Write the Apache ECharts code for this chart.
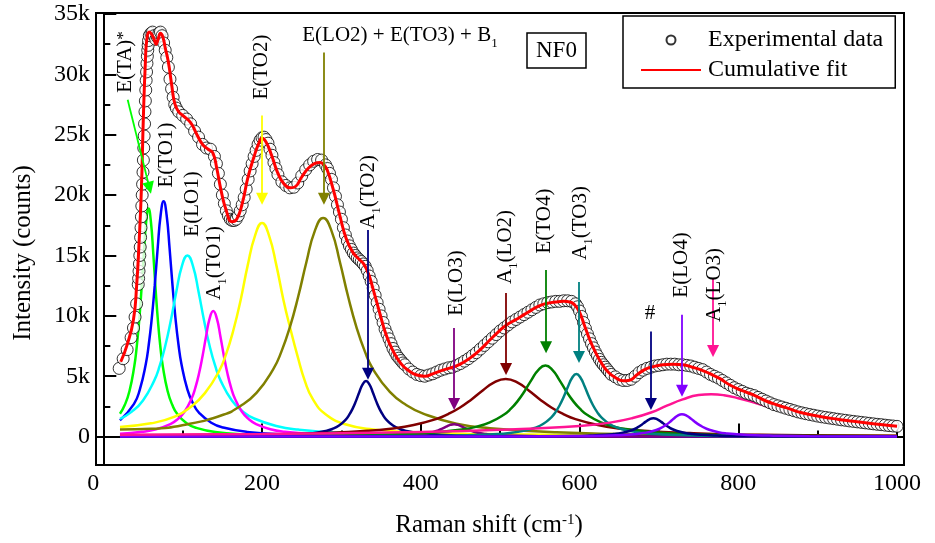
<!DOCTYPE html>
<html>
<head>
<meta charset="utf-8">
<script src="https://cdn.jsdelivr.net/npm/echarts@6/dist/echarts.min.js"></script>
<style>
  html, body { margin: 0; padding: 0; background: #fff; }
  #container { width: 935px; height: 543px; }
</style>
</head>
<body>
<div id="container"></div>
<script>
// Raman spectrum of NF0 with fitted peaks; intensities in k counts

var expShift = [20, 25, 30, 35, 38, 40, 42, 44, 44.5, 45, 45.5, 46, 46.5, 47, 47.5, 48, 48.5, 49, 49.5, 50, 50.5, 51, 51.5, 52, 52.5, 53, 53.5, 54, 54.5, 55, 55.5, 56, 56.5, 57, 58,
    60, 62, 64, 66, 68, 70, 72, 74, 76, 78, 80, 82, 84, 86, 88, 90, 92, 95,
    100, 105, 110, 115, 120, 125, 130, 135, 140, 142.5, 145, 147.5, 150, 152.5, 155, 157.5, 160, 162.5, 165, 167.5, 170, 172.5, 175, 177.5, 180, 182.5, 185, 187.5, 190, 192.5, 195, 197.5,
    200, 202.5, 205, 207.5, 210, 212.5, 215, 217.5, 220, 225, 230, 235, 240, 245, 250, 255, 260, 265, 270, 275, 280, 282.5, 285, 287.5, 290, 292.5, 295, 297.5,
    300, 302.5, 305, 307.5, 310, 312.5, 315, 317.5, 320, 322.5, 325, 327.5, 330, 332.5, 335, 337.5, 340, 342.5, 345, 347.5, 350, 352.5, 355, 357.5, 360, 362.5, 365, 367.5, 370, 372.5, 375, 377.5, 380, 385, 390, 395,
    400, 405, 410, 415, 420, 425, 430, 435, 440, 445, 450, 455, 460, 465, 470, 475, 480, 485, 490, 495,
    500, 505, 510, 515, 520, 525, 530, 535, 540, 545, 550, 555, 560, 565, 570, 575, 580, 585, 590, 595, 597.5,
    600, 602.5, 605, 607.5, 610, 612.5, 615, 617.5, 620, 622.5, 625, 627.5, 630, 632.5, 635, 637.5, 640, 645, 650, 655, 660, 665, 670, 675, 680, 685, 690, 695,
    700, 705, 710, 715, 720, 725, 730, 735, 740, 745, 750, 755, 760, 765, 770, 775, 780, 785, 790, 795,
    800, 805, 810, 815, 820, 825, 830, 835, 840, 845, 850, 855, 860, 865, 870, 875, 880, 885, 890, 895,
    900, 905, 910, 915, 920, 925, 930, 935, 940, 945, 950, 955, 960, 965, 970, 975, 980, 985, 990, 995, 1000];

var expCounts = [5.65, 6.45, 7.2, 8.2, 9.0, 9.9, 11.0, 12.6, 13.1, 13.7, 14.3, 15.0, 15.7, 16.5, 17.3, 18.2, 19.1, 20.0, 20.9, 21.9, 22.9, 23.9, 24.9, 25.9, 26.9, 27.8, 28.7, 29.5, 30.2, 30.9, 31.5, 32.0, 32.4, 32.8, 33.2,
    33.4, 33.5, 33.2, 32.9, 33.1, 33.4, 33.5, 33.2, 32.6, 32.0, 31.4, 30.6, 29.6, 28.8, 28.1, 27.5, 27.2, 26.9,
    26.6, 26.3, 25.9, 25.3, 24.8, 24.2, 23.9, 23.8, 23.2, 22.6, 21.8, 20.9, 20.0, 19.3, 18.7, 18.3, 18.0, 17.9, 17.9, 18.0, 18.3, 18.7, 19.2, 19.8, 20.5, 21.3, 22.0, 22.6, 23.2, 23.7, 24.2, 24.55,
    24.75, 24.8, 24.6, 24.3, 23.8, 23.3, 22.7, 22.2, 21.7, 21.1, 20.8, 20.6, 20.65, 21.0, 21.6, 22.1, 22.5, 22.8, 22.95, 22.9, 22.5, 22.2, 21.8, 21.3, 20.6, 19.9, 19.2, 18.6,
    18.0, 17.3, 16.7, 16.2, 15.8, 15.5, 15.2, 15.0, 14.8, 14.65, 14.5, 14.3, 14.1, 13.75, 13.3, 12.85, 12.3, 11.7, 11.1, 10.55, 10.0, 9.45, 8.9, 8.5, 8.1, 7.7, 7.3, 7.0, 6.7, 6.5, 6.3, 6.1, 5.95, 5.6, 5.35, 5.15,
    5.05, 5.0, 5.1, 5.2, 5.35, 5.5, 5.6, 5.7, 5.75, 5.9, 6.05, 6.25, 6.45, 6.7, 6.95, 7.25, 7.55, 7.85, 8.15, 8.45,
    8.75, 9.0, 9.25, 9.5, 9.7, 9.9, 10.1, 10.3, 10.5, 10.7, 10.9, 11.0, 11.1, 11.15, 11.2, 11.2, 11.25, 11.25, 11.2, 11.0, 10.75,
    10.4, 9.95, 9.45, 8.95, 8.5, 8.1, 7.7, 7.35, 7.0, 6.7, 6.4, 6.15, 5.95, 5.75, 5.55, 5.35, 5.15, 4.95, 4.75, 4.65, 4.65, 4.75, 5.0, 5.3, 5.5, 5.65, 5.75, 5.85,
    5.9, 5.95, 6.0, 6.0, 6.0, 5.95, 5.95, 5.9, 5.85, 5.75, 5.65, 5.55, 5.35, 5.15, 5.0, 4.85, 4.65, 4.45, 4.25, 4.05,
    3.9, 3.75, 3.6, 3.5, 3.4, 3.25, 3.1, 2.95, 2.8, 2.65, 2.55, 2.45, 2.35, 2.25, 2.15, 2.05, 1.97, 1.9, 1.83, 1.77,
    1.7, 1.64, 1.59, 1.54, 1.49, 1.44, 1.39, 1.35, 1.3, 1.26, 1.22, 1.18, 1.14, 1.1, 1.06, 1.02, 0.99, 0.95, 0.91, 0.88, 0.85];

var fitShift = [22, 30, 38, 42, 45, 48, 50.5, 53, 55, 58, 61, 64, 66.5, 69, 72, 75, 78, 82, 86, 90, 95, 100, 110, 118, 125, 132, 138, 143, 148, 155, 162, 168, 175, 182,
    190, 196, 200, 205, 212, 220, 228, 236, 242, 250, 258, 266, 273, 278, 282, 290, 298, 306, 314, 322, 328, 334, 340, 348, 356, 365, 375, 385, 395,
    405, 415, 425, 435, 445, 455, 465, 475, 487, 498, 508, 520, 530, 540, 550, 560, 570, 580, 588, 594, 600, 606, 613, 620, 628, 636, 645, 655, 663,
    672, 682, 693, 705, 718, 730, 742, 756, 768, 777, 790, 805, 819, 835, 850, 861, 880, 903, 925, 945, 970, 1000];

var fitCounts = [6.2, 7.6, 9.7, 12.5, 16.0, 20.5, 26.5, 31.0, 33.0, 33.5, 33.3, 32.9, 32.5, 32.9, 33.4, 33.1, 32.2, 31.0, 29.2, 27.6, 26.9, 26.6, 26.0, 25.0, 24.2, 23.8, 23.5, 22.2, 20.5, 18.7, 17.8, 18.0, 19.3, 21.4,
    23.2, 24.3, 24.7, 24.4, 23.3, 21.8, 20.9, 20.6, 20.7, 21.5, 22.2, 22.6, 22.7, 22.5, 22.1, 20.4, 18.3, 16.4, 15.3, 14.7, 14.3, 13.5, 12.2, 10.3, 8.5, 7.1, 6.05, 5.45, 5.1,
    5.0, 5.2, 5.45, 5.65, 5.85, 6.2, 6.65, 7.2, 8.0, 8.7, 9.25, 9.7, 10.1, 10.5, 10.85, 11.05, 11.15, 11.2, 11.15, 10.9, 10.3, 9.25, 8.0, 7.0, 6.05, 5.35, 4.9, 4.62, 4.67,
    5.1, 5.55, 5.8, 5.95, 6.0, 5.95, 5.75, 5.45, 5.1, 4.8, 4.25, 3.8, 3.45, 2.95, 2.6, 2.38, 1.98, 1.67, 1.44, 1.27, 1.06, 0.85];

// fitted components, [shift, k counts]
var peakETA = [[21, 1.89], [27, 2.61], [33, 3.78], [39, 5.82], [42, 7.37], [45, 9.45], [48, 12.1], [51, 15.12], [54, 17.79], [57, 18.9], [60, 17.79], [63, 15.12], [66, 12.1], [69, 9.45], [72, 7.37], [75, 5.82], [81, 3.78], [87, 2.61], [93, 1.89], [105, 1.11], [117, 0.73], [141, 0.38], [177, 0.19], [237, 0.085], [297, 0.047], [477, 0.015], [1000, 0.004]];
var peakETO1 = [[21, 1.35], [38.5, 2.69], [46, 3.9], [53.5, 6.0], [57.25, 7.61], [61, 9.75], [64.75, 12.48], [68.5, 15.6], [72.25, 18.35], [76, 19.5], [79.75, 18.35], [83.5, 15.6], [87.25, 12.48], [91, 9.75], [94.75, 7.61], [98.5, 6.0], [106, 3.9], [113.5, 2.69], [121, 1.95], [136, 1.15], [151, 0.75], [181, 0.39], [226, 0.19], [301, 0.087], [400, 0.04], [600, 0.016], [1000, 0.005]];
var peakELO1 = [[21, 1.47], [36, 2.07], [50, 3.0], [64, 4.62], [71, 5.85], [78, 7.5], [85, 9.6], [92, 12.0], [99, 14.12], [106, 15.0], [113, 14.12], [120, 12.0], [127, 9.6], [134, 7.5], [141, 5.85], [148, 4.62], [162, 3.0], [176, 2.07], [190, 1.5], [218, 0.88], [246, 0.58], [302, 0.3], [386, 0.15], [526, 0.066], [700, 0.033], [1000, 0.015]];
var peakA1TO1 = [[21, 0.24], [48.5, 0.4], [66.5, 0.61], [84.5, 1.04], [93.5, 1.43], [102.5, 2.08], [111.5, 3.2], [116, 4.06], [120.5, 5.2], [125, 6.66], [129.5, 8.32], [134, 9.79], [138.5, 10.4], [143, 9.79], [147.5, 8.32], [152, 6.66], [156.5, 5.2], [161, 4.06], [165.5, 3.2], [174.5, 2.08], [183.5, 1.43], [192.5, 1.04], [210.5, 0.61], [228.5, 0.4], [264.5, 0.21], [318.5, 0.1], [408, 0.046], [600, 0.015], [1000, 0.004]];
var peakETO2 = [[21, 0.8], [60, 1.1], [90, 1.65], [110, 2.45], [128, 3.6], [146, 5.45], [155, 6.9], [164, 8.85], [173, 11.3], [182, 14.2], [191, 16.6], [200, 17.7], [209, 16.6], [218, 14.2], [227, 11.3], [236, 8.85], [245, 6.6], [254, 4.6], [264, 3.1], [280, 1.85], [306, 1.0], [340, 0.6], [400, 0.35], [500, 0.2], [700, 0.1], [1000, 0.05]];
var peakELO2 = [[21, 0.6], [60, 0.65], [109, 1.07], [151, 1.81], [172, 2.5], [193, 3.62], [214, 5.57], [224.5, 7.06], [235, 9.05], [245.5, 11.58], [256, 14.48], [266.5, 17.04], [277, 18.1], [287.5, 17.04], [298, 14.48], [308.5, 11.58], [319, 9.05], [329.5, 7.06], [340, 5.57], [361, 3.7], [382, 2.6], [403, 1.9], [445, 1.07], [487, 0.7], [571, 0.36], [697, 0.17], [1000, 0.06]];
var peakA1TO2 = [[21, 0.015], [200, 0.077], [246, 0.17], [263, 0.27], [280, 0.46], [288.5, 0.63], [297, 0.92], [305.5, 1.41], [309.75, 1.8], [314, 2.3], [318.25, 2.94], [322.5, 3.68], [326.75, 4.33], [331, 4.6], [335.25, 4.33], [339.5, 3.68], [343.75, 2.94], [348, 2.3], [352.25, 1.8], [356.5, 1.41], [365, 0.92], [373.5, 0.63], [382, 0.46], [399, 0.27], [416, 0.17], [450, 0.09], [500, 0.05], [700, 0.01], [1000, 0.005]];
var peakELO3 = [[21, 0.005], [300, 0.02], [382, 0.1], [392, 0.14], [402, 0.21], [412, 0.32], [422, 0.52], [427, 0.66], [432, 0.82], [437, 0.97], [442, 1.03], [447, 0.97], [452, 0.82], [457, 0.66], [462, 0.52], [472, 0.32], [482, 0.21], [492, 0.14], [502, 0.1], [600, 0.016], [1000, 0.003]];
var peakA1LO2 = [[21, 0.067], [217, 0.18], [275, 0.29], [333, 0.48], [362, 0.66], [391, 0.96], [420, 1.47], [434.5, 1.87], [449, 2.39], [463.5, 3.06], [478, 3.82], [492.5, 4.5], [507, 4.78], [521.5, 4.5], [536, 3.82], [550.5, 3.06], [565, 2.39], [579.5, 1.87], [594, 1.47], [623, 0.96], [652, 0.66], [681, 0.48], [739, 0.29], [797, 0.18], [913, 0.095], [1000, 0.065]];
var peakETO4 = [[21, 0.025], [207, 0.058], [312, 0.118], [382, 0.226], [417, 0.346], [452, 0.59], [469.5, 0.81], [487, 1.18], [504.5, 1.81], [513.25, 2.29], [522, 2.94], [530.75, 3.76], [539.5, 4.7], [548.25, 5.53], [557, 5.88], [565.75, 5.53], [574.5, 4.7], [583.25, 3.76], [592, 2.94], [600.75, 2.29], [609.5, 1.81], [627, 1.18], [644.5, 0.81], [662, 0.59], [697, 0.346], [732, 0.226], [802, 0.118], [907, 0.058], [1000, 0.036]];
var peakA1TO3 = [[21, 0.007], [386, 0.05], [449, 0.1], [491, 0.2], [512, 0.3], [533, 0.52], [543.5, 0.72], [554, 1.04], [564.5, 1.6], [569.75, 2.03], [575, 2.6], [580.25, 3.32], [585.5, 4.15], [590.75, 4.88], [596, 5.19], [601.25, 4.88], [606.5, 4.15], [611.75, 3.32], [617, 2.6], [622.25, 2.03], [627.5, 1.6], [638, 1.04], [648.5, 0.72], [659, 0.52], [680, 0.3], [701, 0.2], [743, 0.1], [806, 0.05], [1000, 0.014]];
var peakHash = [[21, 0.001], [500, 0.016], [593, 0.058], [613, 0.09], [633, 0.15], [643, 0.21], [653, 0.3], [663, 0.47], [668, 0.59], [673, 0.76], [678, 0.97], [683, 1.22], [688, 1.43], [693, 1.52], [698, 1.43], [703, 1.22], [708, 0.97], [713, 0.76], [718, 0.59], [723, 0.47], [733, 0.3], [743, 0.21], [753, 0.15], [773, 0.09], [793, 0.058], [900, 0.014], [1000, 0.006]];
var peakELO4 = [[21, 0.001], [500, 0.015], [629, 0.08], [649, 0.12], [669, 0.2], [676.5, 0.26], [687, 0.37], [697.5, 0.57], [702.75, 0.72], [708, 0.93], [713.25, 1.18], [718.5, 1.48], [723.75, 1.74], [729, 1.85], [734.75, 1.74], [740.5, 1.48], [746.25, 1.18], [752, 0.93], [757.75, 0.72], [763.5, 0.57], [775, 0.37], [786.5, 0.26], [798, 0.2], [821, 0.12], [844, 0.08], [890, 0.04], [1000, 0.014]];
var peakA1LO3 = [[21, 0.15], [200, 0.22], [400, 0.39], [500, 0.56], [600, 0.87], [640, 1.18], [667, 1.54], [690, 2.0], [710, 2.56], [730, 3.08], [750, 3.44], [766, 3.51], [782, 3.43], [800, 3.18], [825, 2.72], [850, 2.26], [875, 1.8], [900, 1.44], [925, 1.15], [950, 0.95], [975, 0.8], [1000, 0.68]];

// arrows: shift and k counts at tail and head
var arrowShift = [[30.7, 58.2], [200, 200], [278, 278], [333.5, 333.5], [442, 442], [507.4, 507.4], [557.8, 557.8], [599.3, 599.3], [690, 690], [729.1, 729.1], [768.2, 768.2]];
var arrowCounts = [[27.9, 20.6], [26.6, 19.7], [31.8, 19.7], [17.1, 5.2], [9.0, 2.7], [11.9, 5.6], [13.8, 7.4], [12.8, 6.6], [8.7, 2.7], [10.1, 3.8], [13.1, 7.1]];
var arrowColors = ['#00ff00', '#ffff00', '#808000', '#000080', '#800080', '#800000', '#008000', '#008080', '#000080', '#8000ff', '#ff1493'];

var FONT = "'Liberation Serif', 'Times New Roman', serif";

var peaks = [
    [peakETA, '#00ff00'],
    [peakETO1, '#0000ff'],
    [peakELO1, '#00ffff'],
    [peakA1TO1, '#ff00ff'],
    [peakETO2, '#ffff00'],
    [peakELO2, '#808000'],
    [peakA1TO2, '#000080'],
    [peakELO3, '#800080'],
    [peakA1LO2, '#800000'],
    [peakETO4, '#008000'],
    [peakA1TO3, '#008080'],
    [peakHash, '#000080'],
    [peakELO4, '#8000ff'],
    [peakA1LO3, '#ff1493']
];

var series = peaks.map(function (p) {
    return {
        type: 'line',
        data: p[0],
        smooth: 0.5,
        symbol: 'none',
        silent: true,
        z: 2,
        lineStyle: { color: p[1], width: 2.5 }
    };
});

series.push({
    type: 'scatter',
    name: 'Experimental data',
    data: expShift.map(function (x, i) { return [x, expCounts[i]]; }),
    symbol: 'circle',
    symbolSize: 12,
    silent: true,
    z: 3,
    itemStyle: { color: '#fff', borderColor: '#000', borderWidth: 1 }
});

series.push({
    type: 'line',
    name: 'Cumulative fit',
    data: fitShift.map(function (x, i) { return [x, fitCounts[i]]; }),
    smooth: 0.5,
    symbol: 'none',
    showSymbol: false,
    silent: true,
    z: 4,
    itemStyle: { color: '#ff0000' },
    lineStyle: { color: '#ff0000', width: 3 },
    markLine: {
        silent: true,
        symbol: ['none', 'triangle'],
        symbolSize: 12,
        label: { show: false },
        data: arrowShift.map(function (s, i) {
            return [
                { coord: [s[0], arrowCounts[i][0]], lineStyle: { color: arrowColors[i], width: 1.8, type: 'solid' } },
                { coord: [s[1], arrowCounts[i][1]] }
            ];
        })
    }
});

// text labels (page pixels)
var richSmall = {
    m: { fontFamily: FONT, fontSize: 21, lineHeight: 22, verticalAlign: 'top', color: '#000' },
    s: { fontFamily: FONT, fontSize: 13, lineHeight: 12, padding: [12, 0, 0, 0], verticalAlign: 'top', color: '#000' },
    p: { fontFamily: FONT, fontSize: 17, lineHeight: 16, verticalAlign: 'top', color: '#000' }
};
var richBig = {
    m: { fontFamily: FONT, fontSize: 25, lineHeight: 26, verticalAlign: 'top', color: '#000' },
    p: { fontFamily: FONT, fontSize: 15, lineHeight: 14, verticalAlign: 'top', color: '#000' }
};

var labels = [
    ['{m|E(TA)}{p|*}', 126, 62, true],
    ['{m|E(TO1)}', 167, 155, true],
    ['{m|E(LO1)}', 193, 204, true],
    ['{m|A}{s|1}{m|(TO1)}', 215, 263, true],
    ['{m|E(TO2)}', 262, 67, true],
    ['{m|E(LO2) + E(TO3) + B}{s|1}', 400, 36, false],
    ['{m|A}{s|1}{m|(TO2)}', 369, 192, true],
    ['{m|E(LO3)}', 457, 283, true],
    ['{m|A}{s|1}{m|(LO2)}', 506, 247, true],
    ['{m|E(TO4)}', 545, 221, true],
    ['{m|A}{s|1}{m|(TO3)}', 581, 223, true],
    ['{m|#}', 650, 314, false],
    ['{m|E(LO4)}', 682, 265, true],
    ['{m|A}{s|1}{m|(LO3)}', 715, 285, true]
];

var graphics = labels.map(function (l) {
    return {
        type: 'text',
        x: l[1],
        y: l[2],
        rotation: l[3] ? Math.PI / 2 : 0,
        silent: true,
        z: 10,
        style: { text: l[0], rich: richSmall, align: 'center', verticalAlign: 'middle' }
    };
});

graphics.push({
    type: 'text', x: 24, y: 253, rotation: Math.PI / 2, silent: true,
    style: { text: '{m|Intensity (counts)}', rich: richBig, align: 'center', verticalAlign: 'middle' }
});
graphics.push({
    type: 'text', x: 489, y: 526, silent: true,
    style: { text: '{m|Raman shift (cm}{p|-1}{m|)}', rich: richBig, align: 'center', verticalAlign: 'middle' }
});

var chart = echarts.init(document.getElementById('container'), null, { renderer: 'canvas' });

chart.setOption({
    animation: false,
    backgroundColor: '#fff',
    grid: {
        left: 96, right: 31, top: 13, bottom: 78,
        show: true, borderColor: '#000', borderWidth: 2
    },
    title: {
        text: 'NF0',
        left: 527,
        top: 33,
        padding: [5, 9, 4, 9],
        borderColor: '#000',
        borderWidth: 1.5,
        textStyle: { fontFamily: FONT, fontSize: 23, fontWeight: 'normal', color: '#000', lineHeight: 26 }
    },
    legend: {
        left: 623,
        top: 16,
        orient: 'vertical',
        padding: [9, 12, 3, 17],
        borderColor: '#000',
        borderWidth: 1.5,
        itemWidth: 60,
        itemHeight: 9,
        itemGap: 0,
        selectedMode: false,
        textStyle: { fontFamily: FONT, fontSize: 24, color: '#000', lineHeight: 30, padding: [0, 0, 0, 2] },
        data: ['Experimental data', { name: 'Cumulative fit', itemStyle: { opacity: 0 } }]
    },
    xAxis: [{
        type: 'value',
        min: -9.2,
        max: 1008.8,
        axisLine: { lineStyle: { color: '#000', width: 2 } },
        axisTick: { inside: true, length: 13, lineStyle: { color: '#000', width: 2 }, customValues: [0, 200, 400, 600, 800, 1000] },
        axisLabel: {
            customValues: [0, 200, 400, 600, 800, 1000],
            margin: 7,
            fontFamily: FONT,
            fontSize: 24,
            color: '#000',
            formatter: function (v) { return v === 0 ? '{z|0}' : String(v); },
            rich: { z: { fontFamily: FONT, fontSize: 24, color: '#000', padding: [0, 20, 0, 0] } }
        },
        splitLine: { show: false }
    }, {
        type: 'value',
        position: 'bottom',
        min: -9.2,
        max: 1008.8,
        axisLine: { show: false },
        axisTick: { inside: true, length: 6, lineStyle: { color: '#000', width: 2 }, customValues: [100, 300, 500, 700, 900] },
        axisLabel: { show: false },
        splitLine: { show: false }
    }],
    yAxis: [{
        type: 'value',
        min: -2.35,
        max: 35.08,
        axisLine: { show: true, lineStyle: { color: '#000', width: 2 } },
        axisTick: { show: true, inside: true, length: 13, lineStyle: { color: '#000', width: 2 }, customValues: [0, 5, 10, 15, 20, 25, 30, 35] },
        axisLabel: {
            customValues: [0, 5, 10, 15, 20, 25, 30, 35],
            margin: 6,
            fontFamily: FONT,
            fontSize: 24,
            color: '#000',
            formatter: function (v) { return v === 0 ? '0' : v + 'k'; }
        },
        splitLine: { show: false }
    }, {
        type: 'value',
        position: 'left',
        min: -2.35,
        max: 35.08,
        axisLine: { show: false },
        axisTick: { show: true, inside: true, length: 7, lineStyle: { color: '#000', width: 2 }, customValues: [2.5, 7.5, 12.5, 17.5, 22.5, 27.5, 32.5] },
        axisLabel: { show: false },
        splitLine: { show: false }
    }],
    series: series,
    graphic: graphics
});
</script>
</body>
</html>
